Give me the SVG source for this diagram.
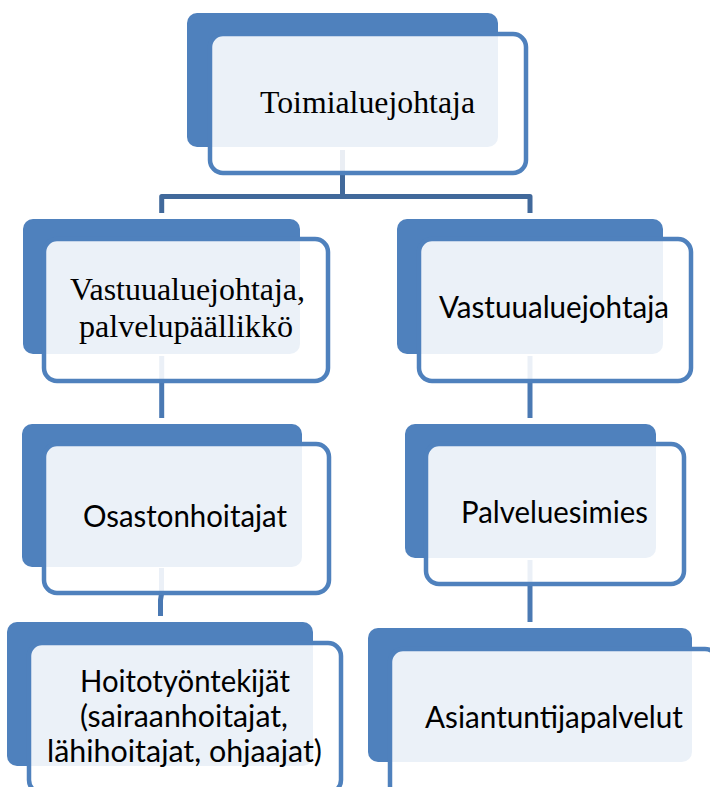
<svg xmlns="http://www.w3.org/2000/svg" width="710" height="787" viewBox="0 0 710 787">
  <style>
    .back { fill: #4F81BD; }
    .front { fill: #FFFFFF; fill-opacity: 0.89; stroke: #4F81BD; stroke-width: 4.5; }
    .serif { font-family: "Liberation Serif", "Times New Roman", serif; font-size: 31px; fill: #000000; }
    .sans { font-family: "Lato", "Open Sans", "Liberation Sans", sans-serif; font-size: 31px; fill: #000000; }
    .link { fill: none; stroke-width: 5; stroke-linejoin: round; }
    .top { stroke: #41699B; }
    .sub { stroke: #4A79B3; }
  </style>

  <!-- connectors sit beneath the boxes -->
  <g id="connectors">
    <path class="link top" d="M342.5 150 V196.5 H161.7 V213 M342.5 196.5 H530 V213"/>
    <path class="link sub" d="M161.7 356 V418"/>
    <path class="link sub" d="M530 356 V418"/>
    <path class="link sub" d="M161.5 568 V594 L160.5 600 V616"/>
    <path class="link sub" d="M530 560 V622"/>
  </g>

  <g id="toimialuejohtaja">
    <rect class="back" x="187" y="13" width="311" height="134" rx="10"/>
    <rect class="front" x="210" y="34" width="316" height="139" rx="13"/>
    <text class="serif" x="260" y="113" textLength="215" lengthAdjust="spacingAndGlyphs">Toimialuejohtaja</text>
  </g>

  <g id="vastuualuejohtaja-palvelupaallikko">
    <rect class="back" x="23" y="219" width="277" height="135" rx="10"/>
    <rect class="front" x="44" y="239" width="284" height="142" rx="13"/>
    <text class="serif" x="70" y="300" textLength="235" lengthAdjust="spacingAndGlyphs">Vastuualuejohtaja,</text>
    <text class="serif" x="79" y="337" textLength="214" lengthAdjust="spacingAndGlyphs">palvelupäällikkö</text>
  </g>

  <g id="vastuualuejohtaja">
    <rect class="back" x="397" y="219" width="266" height="135" rx="10"/>
    <rect class="front" x="419" y="239" width="272" height="142" rx="13"/>
    <text class="sans" x="439" y="318" textLength="230" lengthAdjust="spacingAndGlyphs">Vastuualuejohtaja</text>
  </g>

  <g id="osastonhoitajat">
    <rect class="back" x="22" y="424" width="280" height="143" rx="10"/>
    <rect class="front" x="44" y="444" width="285" height="149" rx="13"/>
    <text class="sans" x="83" y="527" textLength="204" lengthAdjust="spacingAndGlyphs">Osastonhoitajat</text>
  </g>

  <g id="palveluesimies">
    <rect class="back" x="405" y="424" width="251" height="134" rx="10"/>
    <rect class="front" x="426" y="444" width="258" height="140" rx="13"/>
    <text class="sans" x="461" y="523" textLength="187" lengthAdjust="spacingAndGlyphs">Palveluesimies</text>
  </g>

  <g id="hoitotyontekijat">
    <rect class="back" x="7" y="622" width="306" height="144" rx="10"/>
    <rect class="front" x="29" y="643" width="312" height="150" rx="13"/>
    <text class="sans" x="80" y="692" textLength="210" lengthAdjust="spacingAndGlyphs">Hoitotyöntekijät</text>
    <text class="sans" x="80" y="727" textLength="208" lengthAdjust="spacingAndGlyphs">(sairaanhoitajat,</text>
    <text class="sans" x="47" y="762" textLength="275" lengthAdjust="spacingAndGlyphs">lähihoitajat, ohjaajat)</text>
  </g>

  <g id="asiantuntijapalvelut">
    <rect class="back" x="368" y="628" width="324" height="134" rx="10"/>
    <rect class="front" x="390" y="649" width="328" height="150" rx="13"/>
    <text class="sans" x="425" y="728" textLength="258" lengthAdjust="spacingAndGlyphs">Asiantuntijapalvelut</text>
  </g>
</svg>
